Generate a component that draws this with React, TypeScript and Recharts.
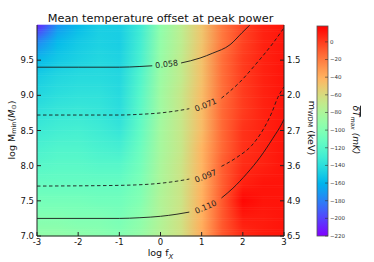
import React from 'react';
import { ComposedChart, XAxis, YAxis, Line, ReferenceArea, ReferenceDot } from 'recharts';

const W = 374;
const H = 262;
const FONT = '"DejaVu Sans", Verdana, sans-serif';

// ---- axes / ticks ----
const fxTicks = [-3, -2, -1, 0, 1, 2, 3];
const mMinTicks = [7.0, 7.5, 8.0, 8.5, 9.0, 9.5];
const mWdmLabels = ['6.5', '4.9', '3.6', '2.7', '2.0', '1.5'];
const cbTicks = [-220, -200, -180, -160, -140, -120, -100, -80, -60, -40, -20, 0];
const CB_MIN = -220;
const CB_MAX = 18;

// ---- heat map grid (mean temperature offset, mK) ----
const heatX = [-3, -2.5, -2, -1.5, -1, -0.5, 0, 0.5, 1, 1.5, 2, 2.5, 3];
const heatY = [10, 9.75, 9.5, 9.25, 9, 8.75, 8.5, 8.25, 8, 7.75, 7.5, 7.25, 7];
const dT_y1000 = [-211, -173, -158, -149, -149, -132, -94, -73, -49, -19, -2, 8, 12];
const dT_y0975 = [-177, -158, -151, -147, -149, -130, -92, -73, -49, -19, -2, 8, 12];
const dT_y0950 = [-158, -151, -147, -144, -146, -127, -90, -71, -47, -16, 0, 8, 12];
const dT_y0925 = [-149, -144, -142, -142, -144, -123, -88, -71, -47, -16, 0, 8, 12];
const dT_y0900 = [-144, -140, -138, -138, -142, -120, -86, -68, -45, -16, 0, 8, 12];
const dT_y0875 = [-138, -134, -133, -135, -140, -118, -86, -68, -45, -14, 0, 8, 12];
const dT_y0850 = [-132, -129, -128, -131, -135, -115, -84, -68, -45, -14, 3, 8, 12];
const dT_y0825 = [-126, -123, -123, -126, -128, -111, -83, -68, -42, -14, 3, 8, 12];
const dT_y0800 = [-120, -118, -118, -120, -120, -107, -81, -66, -42, -11, 5, 8, 12];
const dT_y0775 = [-113, -113, -113, -113, -113, -103, -80, -66, -42, -11, 8, 12, 12];
const dT_y0750 = [-106, -106, -106, -108, -108, -100, -78, -66, -40, -9, 16, 12, 12];
const dT_y0725 = [-99, -99, -101, -101, -104, -95, -78, -64, -40, -9, 10, 10, 12];
const dT_y0700 = [-92, -92, -94, -96, -99, -91, -76, -64, -38, -9, 5, 10, 12];
const heatRows = [dT_y1000, dT_y0975, dT_y0950, dT_y0925, dT_y0900, dT_y0875, dT_y0850,
  dT_y0825, dT_y0800, dT_y0775, dT_y0750, dT_y0725, dT_y0700];

// ---- contours (power), split where inline labels sit ----
const c058a = [{ x: -3, y: 9.4 }, { x: -2, y: 9.4 }, { x: -1, y: 9.4 }, { x: -0.5, y: 9.41 }, { x: -0.2, y: 9.42 }];
const c058b = [{ x: 0.5, y: 9.46 }, { x: 0.96, y: 9.53 }, { x: 1.27, y: 9.6 }, { x: 1.69, y: 9.72 }, { x: 1.98, y: 9.89 }, { x: 2.17, y: 10.0 }];
const c071a = [{ x: -3, y: 8.72 }, { x: -2, y: 8.72 }, { x: -1, y: 8.72 }, { x: -0.5, y: 8.73 }, { x: 0, y: 8.75 }, { x: 0.4, y: 8.78 }, { x: 0.7, y: 8.81 }];
const c071b = [{ x: 1.48, y: 8.96 }, { x: 1.93, y: 9.19 }, { x: 2.34, y: 9.46 }, { x: 2.73, y: 9.74 }, { x: 3.0, y: 9.96 }];
const c097a = [{ x: -3, y: 7.71 }, { x: -1, y: 7.72 }, { x: 0, y: 7.75 }, { x: 0.4, y: 7.78 }, { x: 0.7, y: 7.81 }];
const c097b = [{ x: 1.48, y: 7.99 }, { x: 1.86, y: 8.12 }, { x: 2.22, y: 8.29 }, { x: 2.5, y: 8.52 }, { x: 2.7, y: 8.75 }, { x: 2.85, y: 8.97 }, { x: 3.0, y: 9.12 }];
const c110a = [{ x: -3, y: 7.25 }, { x: -1, y: 7.25 }, { x: -0.5, y: 7.26 }, { x: 0, y: 7.28 }, { x: 0.4, y: 7.31 }, { x: 0.7, y: 7.34 }];
const c110b = [{ x: 1.48, y: 7.54 }, { x: 1.76, y: 7.68 }, { x: 2.1, y: 7.89 }, { x: 2.42, y: 8.12 }, { x: 2.73, y: 8.39 }, { x: 2.95, y: 8.6 }, { x: 3.0, y: 8.66 }];
const contourLabelText = ['0.058', '0.071', '0.097', '0.110'];
const contourLabelX = [0.15, 1.1, 1.1, 1.1];
const contourLabelY = [9.44, 8.86, 7.85, 7.41];

const contours = [
  { data: c058a, dashed: false }, { data: c058b, dashed: false },
  { data: c071a, dashed: true }, { data: c071b, dashed: true },
  { data: c097a, dashed: true }, { data: c097b, dashed: true },
  { data: c110a, dashed: false }, { data: c110b, dashed: false },
];
const labelAngles = [-7, -22, -22, -23];

// colour bar extent along its (hidden) horizontal axis
const cbData = [{ x: 0 }, { x: 1 }];

function rainbowRGB(v: number): number[] {
  let t = (v - CB_MIN) / (CB_MAX - CB_MIN);
  t = Math.max(0, Math.min(1, t));
  const r = Math.min(1, Math.abs(2 * t - 0.5));
  const g = Math.sin(Math.PI * t);
  const b = Math.cos((Math.PI * t) / 2);
  return [r * 255, g * 255, b * 255];
}
const rgbStr = (c: number[]) => `rgb(${Math.round(c[0])},${Math.round(c[1])},${Math.round(c[2])})`;
const rainbow = (v: number) => rgbStr(rainbowRGB(v));

const xOff = (xv: number) => (xv - heatX[0]) / (heatX[heatX.length - 1] - heatX[0]);
const cbStops = Array.from({ length: 25 }, (_, k) => k / 24);
const SUB = 8; // shading sub-strips per band (rendering only)

function shadeStops(i: number, k: number) {
  const a = heatRows[i].map(rainbowRGB);
  const b = heatRows[i + 1].map(rainbowRGB);
  const f = (k + 0.5) / SUB;
  return a.map((ca, j) => (
    <stop key={j} offset={xOff(heatX[j])}
      stopColor={rgbStr([0, 1, 2].map((c) => ca[c] * (1 - f) + b[j][c] * f))} />
  ));
}

// each band carries its own paint servers, so nothing depends on outside defs
function bandShape(i: number) {
  return (p: any) => {
    const { x, y, width, height } = p;
    const h = height / SUB;
    return (
      <g>
        <defs>
          {Array.from({ length: SUB }, (_, k) => (
            <linearGradient key={k} id={`hs_${i}_${k}`} x1="0" y1="0" x2="1" y2="0">
              {shadeStops(i, k)}
            </linearGradient>
          ))}
        </defs>
        {Array.from({ length: SUB }, (_, k) => (
          <rect key={k} x={x} y={y + k * h - 0.3} width={width} height={h + 0.6} fill={`url(#hs_${i}_${k})`} />
        ))}
      </g>
    );
  };
}

const fmtHyphen = (v: number) => (v < 0 ? '-' + Math.abs(v) : String(v));
const fmtMinus = (v: number) => (v < 0 ? '\u2212' + Math.abs(v) : String(v));
const tickStyle = { fontSize: 8.5, fill: '#111', fontFamily: FONT };

function MainChart() {
  return (
    <ComposedChart width={W} height={H} margin={{ top: 25, right: 50, bottom: 0, left: 0 }} accessibilityLayer={false}>
      <XAxis xAxisId="b" dataKey="x" type="number" domain={[-3, 3]} ticks={fxTicks} allowDataOverflow
        height={26} tickSize={-4} tickMargin={7} interval={0} tick={tickStyle} tickFormatter={fmtHyphen}
        axisLine={{ stroke: '#222', strokeWidth: 1 }} tickLine={{ stroke: '#222' }} />
      <XAxis xAxisId="t" orientation="top" dataKey="x" type="number" domain={[-3, 3]} ticks={fxTicks} allowDataOverflow
        height={0} tickSize={-4} tick={false} interval={0}
        axisLine={{ stroke: '#222', strokeWidth: 1 }} tickLine={{ stroke: '#222' }} />
      <YAxis yAxisId="l" type="number" domain={[7, 10]} ticks={mMinTicks} allowDataOverflow width={37}
        tickSize={-4} tickMargin={7} interval={0} tick={tickStyle} tickFormatter={(v: number) => v.toFixed(1)}
        axisLine={{ stroke: '#222', strokeWidth: 1 }} tickLine={{ stroke: '#222' }} />
      <YAxis yAxisId="r" orientation="right" type="number" domain={[7, 10]} ticks={mMinTicks} allowDataOverflow width={40}
        tickSize={-4} tickMargin={7} interval={0} tick={{ ...tickStyle, textAnchor: 'start' }}
        tickFormatter={(v: number) => mWdmLabels[mMinTicks.indexOf(v)]}
        axisLine={{ stroke: '#222', strokeWidth: 1 }} tickLine={{ stroke: '#222' }} />
      {heatY.slice(0, -1).map((yv, i) => (
        <ReferenceArea key={`band${i}`} xAxisId="b" yAxisId="l" x1={heatX[0]} x2={heatX[heatX.length - 1]}
          y1={heatY[i + 1]} y2={yv} ifOverflow="visible" shape={bandShape(i)} />
      ))}
      {contours.map((c, i) => (
        <Line key={`c${i}`} xAxisId="b" yAxisId="l" data={c.data} dataKey="y" type="monotone"
          stroke="#1a1a1a" strokeWidth={0.9} strokeDasharray={c.dashed ? '3.5 2.5' : undefined}
          dot={false} activeDot={false} isAnimationActive={false} />
      ))}
      {contourLabelText.map((txt, i) => (
        <ReferenceDot key={`lab${i}`} xAxisId="b" yAxisId="l" x={contourLabelX[i]} y={contourLabelY[i]} r={0}
          shape={(p: any) => (
            <text x={p.cx} y={p.cy} textAnchor="middle" dominantBaseline="central" fontSize={8}
              fontFamily={FONT} fill="#222" transform={`rotate(${labelAngles[i]} ${p.cx} ${p.cy})`}>{txt}</text>
          )} />
      ))}
    </ComposedChart>
  );
}

function ColorBar() {
  return (
    <ComposedChart width={74} height={H} data={cbData} margin={{ top: 26, right: 6, bottom: 26, left: 17 }}
      accessibilityLayer={false}>
      <XAxis xAxisId="cbx" dataKey="x" type="number" domain={[0, 1]} allowDataOverflow height={0}
        tick={false} axisLine={false} tickLine={false} />
      <YAxis yAxisId="cb" orientation="right" type="number" domain={[CB_MIN, CB_MAX]} ticks={cbTicks} allowDataOverflow
        width={40} tickSize={-3} tickMargin={5} interval={0}
        tick={{ fontSize: 5.5, fill: '#333', fontFamily: FONT, textAnchor: 'start' }} tickFormatter={fmtMinus}
        axisLine={false} tickLine={{ stroke: '#333', strokeWidth: 0.6 }} />
      <ReferenceArea xAxisId="cbx" yAxisId="cb" x1={0} x2={1} y1={CB_MIN} y2={CB_MAX} ifOverflow="visible"
        shape={(p: any) => (
          <g>
            <defs>
              <linearGradient id="colorBarGrad" x1="0" y1="1" x2="0" y2="0">
                {cbStops.map((s, k) => (
                  <stop key={k} offset={s} stopColor={rainbow(CB_MIN + s * (CB_MAX - CB_MIN))} />
                ))}
              </linearGradient>
            </defs>
            <rect x={p.x} y={p.y} width={p.width} height={p.height} fill="url(#colorBarGrad)" stroke="#555" strokeWidth={0.8} />
          </g>
        )} />
    </ComposedChart>
  );
}

function Labels() {
  return (
    <svg width={W} height={H} style={{ position: 'absolute', left: 0, top: 0, pointerEvents: 'none' }}
      fontFamily={FONT}>
      <text x={160.5} y={22} textAnchor="middle" fontSize={11.3} fill="#111">Mean temperature offset at peak power</text>
      <text x={160.5} y={256} textAnchor="middle" fontSize={9.5} fill="#111">
        log f<tspan dy={2.5} fontSize={7} fontStyle="italic">X</tspan>
      </text>
      <text x={11} y={130} textAnchor="middle" dominantBaseline="central" fontSize={9.5} fill="#111"
        transform="rotate(-90 11 130)">
        log M<tspan dy={2.5} fontSize={6.5}>min</tspan><tspan dy={-2.5}>(</tspan><tspan fontStyle="italic">M</tspan>
        <tspan dy={2.5} fontSize={6.5}>⊙</tspan><tspan dy={-2.5}>)</tspan>
      </text>
      <text x={312} y={128} textAnchor="middle" dominantBaseline="central" fontSize={9.5} fill="#111"
        transform="rotate(90 312 128)">
        m<tspan dy={2.5} fontSize={6.5}>WDM</tspan><tspan dy={-2.5}> (keV)</tspan>
      </text>
      <text x={356} y={130} textAnchor="middle" dominantBaseline="central" fontSize={9} fill="#111"
        transform="rotate(90 356 130)">
        <tspan fontStyle="italic" textDecoration="overline">δT</tspan><tspan dy={2.5} fontSize={6} fontStyle="italic">max</tspan>
        <tspan dy={-2.5} fontStyle="italic"> (mK)</tspan>
      </text>
    </svg>
  );
}

export default function App() {
  return (
    <div style={{ position: 'absolute', left: 0, top: 0, width: W, height: H, background: '#fff', fontFamily: FONT }}>
      <div style={{ position: 'absolute', left: 0, top: 0 }}>
        <MainChart />
      </div>
      <div style={{ position: 'absolute', left: 300, top: 0 }}>
        <ColorBar />
      </div>
      <Labels />
    </div>
  );
}
